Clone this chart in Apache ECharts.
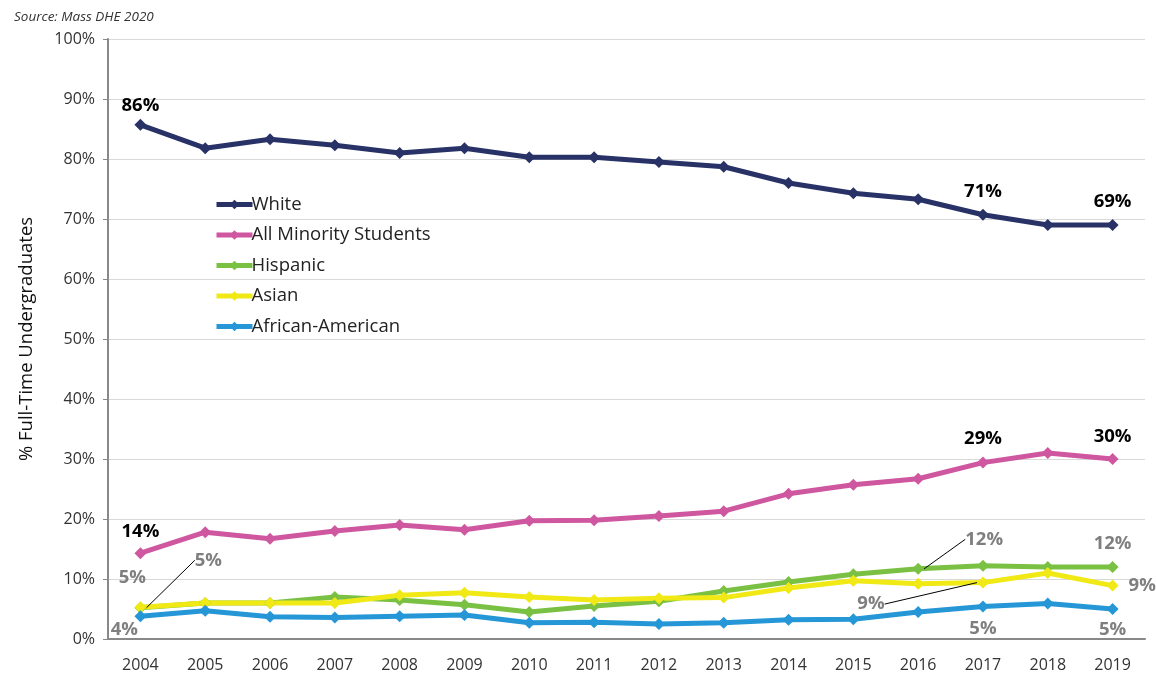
<!DOCTYPE html>
<html>
<head>
<meta charset="utf-8">
<script src="https://cdn.jsdelivr.net/npm/echarts@6/dist/echarts.min.js"></script>
<style>
  html, body { margin: 0; padding: 0; background: #fff; }
  #main { width: 1156px; height: 675px; }
</style>
</head>
<body>
<div id="main"></div>
<script>
// data
var years = ['2004','2005','2006','2007','2008','2009','2010','2011','2012','2013','2014','2015','2016','2017','2018','2019'];
var white    = [85.7, 81.8, 83.3, 82.3, 81.0, 81.8, 80.3, 80.3, 79.5, 78.7, 76.0, 74.3, 73.3, 70.7, 69.0, 69.0];
var minority = [14.3, 17.8, 16.7, 18.0, 19.0, 18.2, 19.7, 19.8, 20.5, 21.3, 24.2, 25.7, 26.7, 29.4, 31.0, 30.0];
var hispanic = [5.2, 6.0, 6.0, 7.0, 6.5, 5.7, 4.5, 5.5, 6.3, 8.0, 9.5, 10.8, 11.7, 12.2, 12.0, 12.0];
var asian    = [5.3, 6.0, 6.0, 6.0, 7.3, 7.7, 7.0, 6.5, 6.8, 6.9, 8.5, 9.7, 9.2, 9.4, 11.0, 8.9];
var african  = [3.8, 4.7, 3.7, 3.6, 3.8, 4.0, 2.7, 2.8, 2.5, 2.7, 3.2, 3.3, 4.5, 5.4, 5.9, 5.0];
var yTicks = [0, 10, 20, 30, 40, 50, 60, 70, 80, 90, 100];

var black = { color: '#000', fontWeight: 'bold', fontSize: 18.5, fontFamily: 'Open Sans' };
var grey = { color: '#7f7f7f', fontWeight: 'bold', fontSize: 18.5, fontFamily: 'Open Sans' };

// which points carry a label, and how it sits
function withLabels(values, labels) {
  return values.map(function (v, i) {
    var l = labels[i];
    if (!l) return v;
    var item = { value: v, label: Object.assign({ show: true, formatter: function (p) { return Math.round(p.value) + '%'; } }, l.style, l.label) };
    if (l.line) item.labelLine = { show: true, lineStyle: { color: '#000', width: 1 } };
    return item;
  });
}

// label nudges (series index -> data index -> shift)
var moves = {
  2: { 0: { dx: 68, dy: -32 }, 12: { dx: 66, dy: -14 } },
  3: { 0: { dx: -8, dy: -4 }, 13: { dx: -112, dy: 37 } },
  4: { 0: { dx: -16, dy: -2 } }
};

function mkSeries(name, values, color, labels, idx) {
  return {
    name: name,
    type: 'line',
    data: withLabels(values, labels),
    symbol: 'diamond',
    symbolSize: 12,
    lineStyle: { width: 5, color: color },
    itemStyle: { color: color },
    label: { show: false },
    labelLayout: function (p) {
      var m = moves[idx] && moves[idx][p.dataIndex];
      return m ? { dx: m.dx, dy: m.dy } : null;
    },
    animation: false
  };
}

var chart = echarts.init(document.getElementById('main'));
var option = {
  animation: false,
  textStyle: { fontFamily: 'Open Sans' },
  title: {
    text: 'Source: Mass DHE 2020',
    left: 9, top: 5,
    textStyle: { fontSize: 13.5, fontStyle: 'italic', fontWeight: 'normal', color: '#333', fontFamily: 'Open Sans' }
  },
  legend: {
    orient: 'vertical',
    left: 209, top: 190,
    itemWidth: 36, itemHeight: 12, itemGap: 11.5,
    lineStyle: { width: 5 },
    textStyle: { fontSize: 18.5, color: '#222', padding: [0, 0, 0, -6] },
    data: ['White', 'All Minority Students', 'Hispanic', 'Asian', 'African-American']
  },
  grid: { left: 108, right: 11, top: 39, bottom: 36 },
  xAxis: {
    type: 'category',
    data: years,
    boundaryGap: true,
    axisLine: { lineStyle: { color: '#888', width: 2 } },
    axisTick: { show: false },
    axisLabel: { fontSize: 16, color: '#333', margin: 18 }
  },
  yAxis: {
    type: 'value',
    min: yTicks[0], max: yTicks[yTicks.length - 1], interval: 10,
    name: '% Full-Time Undergraduates',
    nameLocation: 'middle',
    nameGap: 72,
    nameTextStyle: { fontSize: 18.5, color: '#111' },
    axisLine: { show: true, lineStyle: { color: '#888', width: 2 } },
    axisTick: { show: true, length: 5, lineStyle: { color: '#888' } },
    axisLabel: { fontSize: 16, color: '#333', formatter: '{value}%', margin: 13 },
    splitLine: { lineStyle: { color: '#d9d9d9', width: 1 } }
  },
  series: [
    mkSeries('White', white, '#283266', {
      0: { style: black, label: { position: 'top', distance: 4 } },
      13: { style: black, label: { position: 'top', distance: 8 } },
      15: { style: black, label: { position: 'top', distance: 8 } }
    }, 0),
    mkSeries('All Minority Students', minority, '#cf57a0', {
      0: { style: black, label: { position: 'top', distance: 6 } },
      13: { style: black, label: { position: 'top', distance: 8 } },
      15: { style: black, label: { position: 'top', distance: 7 } }
    }, 1),
    mkSeries('Hispanic', hispanic, '#7ac143', {
      0: { style: grey, label: { position: 'top', distance: 0 }, line: true },
      12: { style: grey, label: { position: 'top', distance: 0 }, line: true },
      15: { style: grey, label: { position: 'top', distance: 8 } }
    }, 2),
    mkSeries('Asian', asian, '#f0e916', {
      0: { style: grey, label: { position: 'top', distance: 10 } },
      13: { style: grey, label: { position: 'top', distance: 0 }, line: true },
      15: { style: grey, label: { position: 'right', distance: 10 } }
    }, 3),
    mkSeries('African-American', african, '#2596d6', {
      0: { style: grey, label: { position: 'bottom', distance: 0 } },
      13: { style: grey, label: { position: 'bottom', distance: 7 } },
      15: { style: grey, label: { position: 'bottom', distance: 5 } }
    }, 4)
  ]
};
chart.setOption(option);
</script>
</body>
</html>
